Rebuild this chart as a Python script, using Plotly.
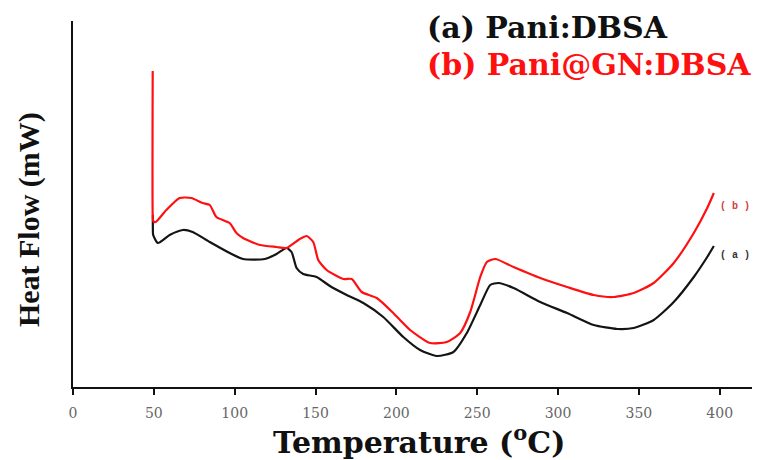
import plotly.graph_objects as go

# Curve (a) Pani:DBSA
temp_a = [49.4, 49.4, 49.6, 52.5, 59.8, 68.0, 74.0, 84.6, 96.9, 105.2, 118.6,
          125.9, 132.1, 135.2, 138.3, 142.4, 150.7, 158.9, 169.3, 179.6, 191.9,
          204.3, 214.7, 225.0, 235.3, 243.6, 251.9, 258.1, 263.2, 272.5, 289.0,
          305.6, 322.1, 336.6, 346.8, 359.2, 371.6, 384.0, 392.3, 396.4]
hf_a = [17.2, 15.8, 15.2, 14.4, 15.2, 15.7, 15.5, 14.5, 13.4, 12.8, 12.8,
        13.3, 13.9, 13.5, 11.9, 11.3, 11.0, 10.1, 9.2, 8.4, 7.0,
        5.0, 3.7, 3.1, 3.5, 5.4, 8.2, 10.2, 10.4, 9.9, 8.5,
        7.4, 6.2, 5.8, 5.9, 6.7, 8.5, 11.0, 13.0, 14.1]

# Curve (b) Pani@GN:DBSA
temp_b = [49.3, 49.3, 49.6, 51.1, 57.7, 66.0, 73.2, 80.2, 84.6, 88.7, 96.9,
          101.1, 105.2, 115.6, 125.9, 132.1, 140.3, 144.5, 148.6, 151.7, 156.9,
          167.2, 172.4, 178.6, 187.9, 198.1, 202.3, 208.5, 220.9, 231.2, 239.5,
          245.7, 251.9, 256.0, 261.2, 272.5, 289.0, 305.6, 322.1, 334.5, 346.8,
          359.2, 371.6, 384.0, 392.3, 396.4]
hf_b = [31.6, 17.2, 16.6, 16.5, 17.7, 18.9, 18.9, 18.4, 18.2, 17.0, 16.4,
        15.4, 14.9, 14.2, 14.0, 13.9, 14.8, 15.1, 14.5, 12.7, 11.7,
        10.8, 10.8, 9.5, 8.9, 7.4, 6.7, 5.7, 4.4, 4.5, 5.4,
        7.5, 11.0, 12.5, 12.8, 12.0, 10.9, 10.0, 9.2, 9.0, 9.4,
        10.4, 12.4, 15.4, 17.9, 19.4]

x_ticks = [0, 50, 100, 150, 200, 250, 300, 350, 400]
x_tick_labels = ["0", "50", "100", "150", "200", "250", "300", "350", "400"]

fig = go.Figure()
fig.add_trace(go.Scatter(x=temp_a, y=hf_a, mode="lines",
                         line=dict(color="#141414", width=2.2, shape="spline", smoothing=0.6),
                         showlegend=False))
fig.add_trace(go.Scatter(x=temp_b, y=hf_b, mode="lines",
                         line=dict(color="#ff1010", width=2.2, shape="spline", smoothing=0.6),
                         showlegend=False))

serif_b = "DejaVu Serif"
fig.update_layout(
    width=761, height=460,
    margin=dict(l=73, r=9, t=21, b=73),
    paper_bgcolor="white", plot_bgcolor="white",
    xaxis=dict(range=[0, 420], tickvals=x_ticks, ticktext=x_tick_labels,
               showgrid=False, zeroline=False, showline=True,
               linecolor="#111", linewidth=2, ticks="outside", ticklen=6,
               tickwidth=1.5, tickcolor="#111",
               tickfont=dict(family="DejaVu Serif", size=14, color="#666"),
               ticklabelstandoff=6),
    yaxis=dict(range=[0, 36.6], showgrid=False, zeroline=False, showline=True,
               linecolor="#111", linewidth=2, showticklabels=False, ticks=""),
    annotations=[
        dict(text="<b>Temperature (<sup>o</sup>C)</b>", xref="paper", yref="paper",
             x=0.5096, y=-0.145, xanchor="center", yanchor="middle", showarrow=False,
             font=dict(family=serif_b, size=30, color="#111")),
        dict(text="<b>Heat Flow (mW)</b>", xref="paper", yref="paper",
             x=-0.0648, y=0.456, xanchor="center", yanchor="middle", showarrow=False,
             textangle=-90,
             font=dict(family="Liberation Serif", size=30, color="#111")),
        dict(text="<b>(a) Pani:DBSA</b>", xref="paper", yref="paper",
             x=0.518, y=0.981, xanchor="left", yanchor="middle", showarrow=False,
             font=dict(family=serif_b, size=30, color="#111")),
        dict(text="<b>(b) Pani@GN:DBSA</b>", xref="paper", yref="paper",
             x=0.518, y=0.8825, xanchor="left", yanchor="middle", showarrow=False,
             font=dict(family=serif_b, size=30, color="#ff1010")),
        dict(text="<b>( b )</b>", xref="paper", yref="paper",
             x=0.95, y=0.4945, xanchor="left", yanchor="middle", showarrow=False,
             font=dict(family="Liberation Mono", size=10, color="#d04040")),
        dict(text="<b>( a )</b>", xref="paper", yref="paper",
             x=0.95, y=0.358, xanchor="left", yanchor="middle", showarrow=False,
             font=dict(family="Liberation Mono", size=10, color="#333")),
    ],
)

fig.write_html("out.html")
